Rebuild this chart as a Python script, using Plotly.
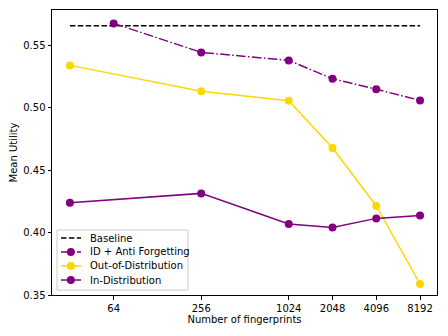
import plotly.graph_objects as go

# x positions (number of fingerprints)
x_base = [32, 8192]
x_af = [64, 256, 1024, 2048, 4096, 8192]
x_main = [32, 256, 1024, 2048, 4096, 8192]

baseline = [0.5655, 0.5655]
id_anti_forget = [0.5673, 0.5441, 0.5377, 0.5230, 0.5146, 0.5057]
out_dist = [0.5337, 0.5130, 0.5055, 0.4676, 0.4212, 0.3588]
in_dist = [0.4239, 0.4313, 0.4068, 0.4041, 0.4113, 0.4137]

tick_vals = [64, 256, 1024, 2048, 4096, 8192]
tick_text = ['64', '256', '1024', '2048', '4096', '8192']

PURPLE = '#800080'
GOLD = '#FFD700'
DASH = '5.5px,2.4px'
DASHDOT = '9.6px,2.4px,1.5px,2.4px'

series = [
    ('Baseline', 'black', DASH, False),
    ('ID + Anti Forgetting', PURPLE, DASHDOT, True),
    ('Out-of-Distribution', GOLD, 'solid', True),
    ('In-Distribution', PURPLE, 'solid', True),
]

fig = go.Figure()

fig.add_trace(go.Scatter(
    x=x_base, y=baseline, mode='lines', name='Baseline',
    line=dict(color='black', width=1.5, dash=DASH)
))
fig.add_trace(go.Scatter(
    x=x_af, y=id_anti_forget, mode='lines+markers', name='ID + Anti Forgetting',
    line=dict(color=PURPLE, width=1.5, dash=DASHDOT),
    marker=dict(color=PURPLE, size=8)
))
fig.add_trace(go.Scatter(
    x=x_main, y=out_dist, mode='lines+markers', name='Out-of-Distribution',
    line=dict(color=GOLD, width=1.5),
    marker=dict(color=GOLD, size=8)
))
fig.add_trace(go.Scatter(
    x=x_main, y=in_dist, mode='lines+markers', name='In-Distribution',
    line=dict(color=PURPLE, width=1.5),
    marker=dict(color=PURPLE, size=8)
))

axis_common = dict(
    showgrid=False, zeroline=False, automargin=False,
    showline=True, linecolor='black', linewidth=1, mirror=True,
    ticks='outside', ticklen=3.5, tickwidth=0.8, tickcolor='black',
    tickfont=dict(size=10, color='black'),
)

fig.update_xaxes(
    type='log', range=[1.382, 4.030],
    tickvals=tick_vals, ticktext=tick_text,
    title=dict(text='Number of fingerprints', font=dict(size=10, color='black'), standoff=2),
    **axis_common
)
fig.update_yaxes(
    range=[0.35, 0.578],
    tickvals=[0.35, 0.40, 0.45, 0.50, 0.55],
    ticktext=['0.35', '0.40', '0.45', '0.50', '0.55'],
    title=dict(text='Mean Utility', font=dict(size=10, color='black'), standoff=6),
    **axis_common
)

# matplotlib-style legend drawn in paper coordinates (lower left)
fig.add_shape(type='rect', xref='paper', yref='paper',
              x0=0.013, x1=0.353, y0=0.0175, y1=0.228,
              line=dict(color='#cccccc', width=1), fillcolor='rgba(255,255,255,0.8)')
row_y = [0.200, 0.151, 0.102, 0.0526]
for (name, color, dash, has_marker), ry in zip(series, row_y):
    fig.add_shape(type='line', xref='paper', yref='paper',
                  x0=0.0234, x1=0.0753, y0=ry, y1=ry,
                  line=dict(color=color, width=1.5, dash=dash))
    if has_marker:
        fig.add_shape(type='circle', xref='paper', yref='paper',
                      xsizemode='pixel', ysizemode='pixel',
                      xanchor=0.049, yanchor=ry, x0=-4, x1=4, y0=-4, y1=4,
                      line=dict(width=0), fillcolor=color)
    fig.add_annotation(xref='paper', yref='paper', x=0.0935, y=ry,
                       xanchor='left', yanchor='middle', showarrow=False,
                       text=name, font=dict(size=10, color='black'))

# page body adds an 8px offset, so margins are shifted to keep the plot area in place
fig.update_layout(
    width=448, height=336,
    margin=dict(l=44, r=19, t=2, b=49),
    paper_bgcolor='white', plot_bgcolor='white',
    font=dict(family='DejaVu Sans', size=10, color='black'),
    showlegend=False,
)

fig.write_html("out.html")
